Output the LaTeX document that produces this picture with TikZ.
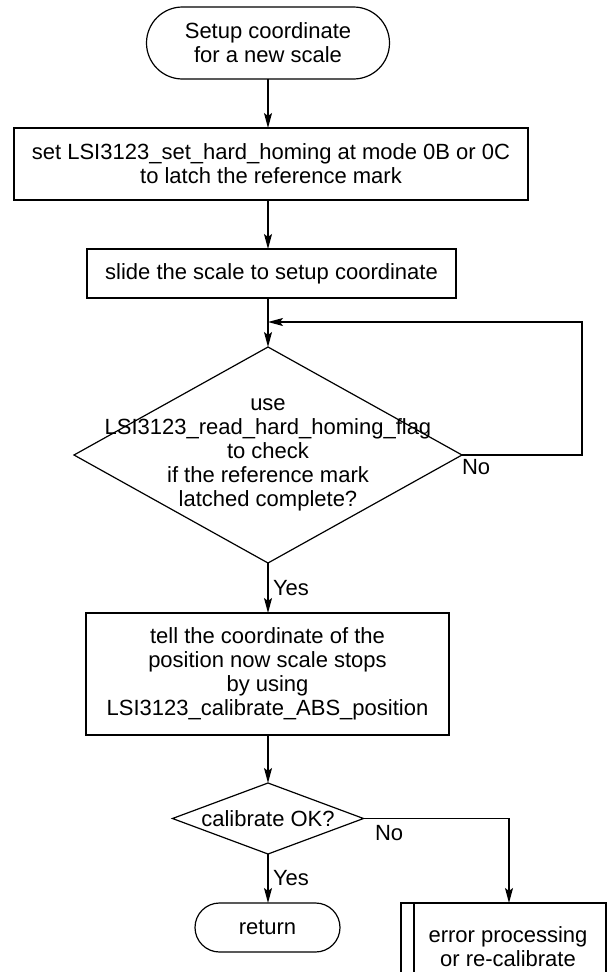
\documentclass[tikz,border=0pt]{standalone}
\usepackage{fontspec}
\setmainfont{Liberation Sans}
\usetikzlibrary{shapes.geometric,shapes.misc,arrows.meta}
\begin{document}
\begin{tikzpicture}[x=1pt,y=-1pt,
  every node/.style={font=\fontsize{22}{24}\selectfont, inner sep=0pt, outer sep=0pt},
  term/.style={draw, rounded rectangle, line width=1.2pt},
  proc/.style={draw, rectangle, line width=1.2pt},
  dec/.style={draw, diamond, line width=1.2pt},
  conn/.style={line width=1.2pt, -{Stealth[length=15pt,width=8pt,inset=3pt]}},
  lbl/.style={font=\fontsize{22}{24}\selectfont}
]
\useasboundingbox (0,0) rectangle (608,972);
\node[term, minimum width=243, minimum height=72] (start) at (268,43) {};
\node[align=center] (startt) at (268,43) {Setup coordinate\\for a new scale};
\node[proc, minimum width=514, minimum height=72] (b1) at (271,164) {};
\node[align=center] (b1t) at (271,164) {set LSI3123\_set\_hard\_homing at mode 0B or 0C\\to latch the reference mark};
\node[proc, minimum width=369, minimum height=49] (b2) at (271.5,273.5) {};
\node (b2t) at (271.5,273.5) {slide the scale to setup coordinate};
\node[dec, minimum width=388, minimum height=216] (d1) at (268,455) {};
\node[align=center] (d1t) at (268,455) {use\\LSI3123\_read\_hard\_homing\_flag\\to check\\if the reference mark\\latched complete?};
\coordinate (j) at (268,322);
\node[proc, minimum width=363, minimum height=122] (b3) at (267.5,674) {};
\node[align=center] (b3t) at (267.5,674) {tell the coordinate of the\\position now scale stops\\by using\\LSI3123\_calibrate\_ABS\_position};
\node[dec, minimum width=191, minimum height=71] (d2) at (268,818.5) {};
\node (d2t) at (268,818.5) {calibrate OK?};
\node[term, minimum width=145, minimum height=49] (ret) at (267.5,927.5) {};
\node (rett) at (267.5,927.5) {return};
\begin{scope}
\clip (0,0) rectangle (608,972);
\node[proc, minimum width=205, minimum height=87] (err) at (503.5,946.5) {};
\node[align=center] (errt) at (508,946.5) {error processing\\or re-calibrate};
\draw[line width=1.2pt] ([xshift=13pt]err.north west) -- ([xshift=13pt]err.south west);
\end{scope}
\coordinate (errin) at (509,903);
\draw[conn] (start.south) -- (b1.north -| start.south);
\draw[conn] (b1.south -| start.south) -- (b2.north -| start.south);
\draw[conn] (b2.south -| start.south) -- (d1.north);
\draw[conn] (d1.east) -- ++(120,0) |- (j);
\node[lbl, anchor=north west] (no1) at (462,459) {No};
\draw[conn] (d1.south) -- (b3.north -| d1.south);
\node[lbl, anchor=base west] (yes1) at (273,595) {Yes};
\draw[conn] (b3.south -| d1.south) -- (d2.north);
\draw[conn] (d2.south) -- (ret.north -| d2.south);
\node[lbl, anchor=base west] (yes2) at (273,885) {Yes};
\draw[conn] (d2.east) -| (errin);
\node[lbl, anchor=north west] (no2) at (375,825) {No};
\end{tikzpicture}
\end{document}
